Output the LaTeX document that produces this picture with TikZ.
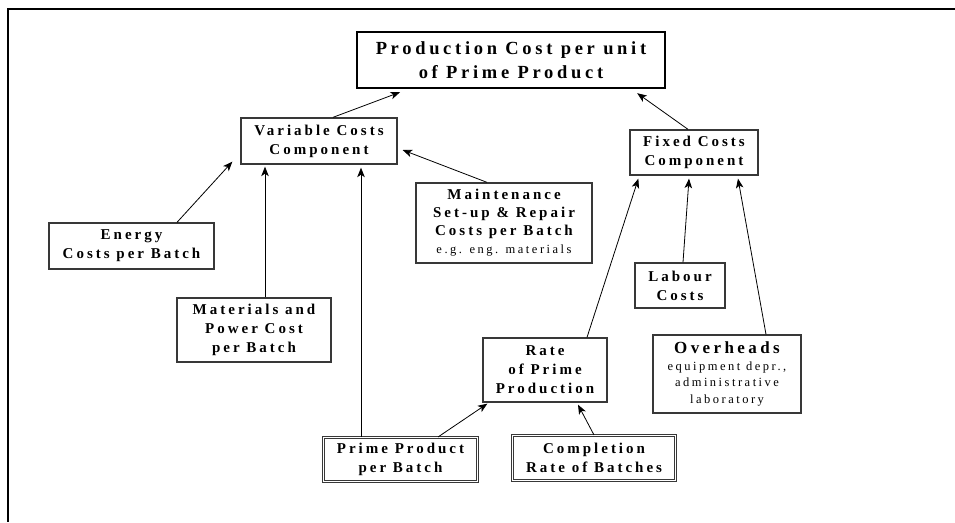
\documentclass[tikz,border=0pt]{standalone}
\usepackage{fontspec}
\setmainfont{Liberation Serif}
\newfontfamily\trackedfont[LetterSpace=20]{Liberation Serif}
\usetikzlibrary{arrows.meta}

\definecolor{boxgray}{gray}{0.22}

\tikzset{
  box/.style={draw=boxgray, line width=1.3pt, inner sep=0pt, align=center,
    font=\trackedfont\bfseries\fontsize{15}{19}\selectfont},
  titlebox/.style={box, draw=black, line width=2.4pt,
    font=\trackedfont\bfseries\fontsize{18.5}{24}\selectfont},
  dblbox/.style={box, double, double distance=1.6pt, line width=1pt},
  arr/.style={-{Stealth[length=9.5pt,width=7.5pt,inset=2.5pt]}, line width=0.8pt},
  frameline/.style={line width=2.6pt},
}
\newcommand{\smalltext}{\mdseries\fontsize{12.5}{16}\selectfont}

\begin{document}
\begin{tikzpicture}[x=1pt,y=-1pt]
  \useasboundingbox (0,0) rectangle (955,522);

  % open frame: top and left edges
  \coordinate (frameR) at (955,9);
  \coordinate (frameC) at (8,9);
  \coordinate (frameB) at (8,522);
  \draw[frameline] (frameR) -- (frameC) -- (frameB);

  % nodes
  \node[titlebox, minimum width=308pt, minimum height=56pt] (top) at (511,60)
    {Production Cost per unit\\of Prime Product};
  \node[box, minimum width=156pt, minimum height=46pt] (var) at (319,141)
    {Variable Costs\\Component};
  \node[box, minimum width=128pt, minimum height=45pt] (fixed) at (694,152.5)
    {Fixed Costs\\Component};
  \node[box, minimum width=165pt, minimum height=46pt] (energy) at (131.5,246)
    {Energy\\Costs per Batch};
  \node[box, minimum width=154pt, minimum height=64pt] (mat) at (254,330)
    {Materials and\\Power Cost\\per Batch};
  \node[box, minimum width=176pt, minimum height=80pt,
        font=\trackedfont\bfseries\fontsize{15}{18}\selectfont] (maint) at (504,223)
    {Maintenance\\Set-up \& Repair\\Costs per Batch\\{\smalltext e.g. eng. materials}};
  \node[box, minimum width=90pt, minimum height=45pt] (labour) at (680,285.5)
    {Labour\\Costs};
  \node[box, minimum width=148pt, minimum height=78pt,
        font=\trackedfont\fontsize{12.5}{16.5}\selectfont] (over) at (727,374)
    {{\bfseries\fontsize{17}{18}\selectfont Overheads}\\equipment depr.,\\administrative\\laboratory};
  \node[box, minimum width=124pt, minimum height=64pt] (rate) at (545,370)
    {Rate\\of Prime\\Production};
  \node[dblbox, minimum width=154pt, minimum height=44pt] (prime) at (400.5,459.5)
    {Prime Product\\per Batch};
  \node[dblbox, minimum width=163pt, minimum height=45pt] (comp) at (594,458)
    {Completion\\Rate of Batches};

  % connectors
  \draw[arr] ([xshift=14pt]var.north) -- ([xshift=-111pt,yshift=-3pt]top.south);
  \draw[arr] ([xshift=-6pt]fixed.north) -- ([xshift=-29pt,yshift=-4pt]top.south east);
  \draw[arr] ([xshift=45.5pt]energy.north) -- ([xshift=-8pt,yshift=3pt]var.south west);
  \draw[arr] ([xshift=11pt]mat.north) -- ([xshift=-54pt,yshift=-2pt]var.south);
  \draw[arr] ([xshift=-39.5pt]prime.north) -- ([xshift=42pt,yshift=-3pt]var.south);
  \draw[arr] ([xshift=-17pt]maint.north) -- ([xshift=5pt,yshift=-9pt]var.east);
  \draw[arr] ([xshift=42pt]rate.north) -- ([xshift=9pt,yshift=-3pt]fixed.south west);
  \draw[arr] ([xshift=3pt]labour.north) -- ([xshift=-5pt,yshift=-3pt]fixed.south);
  \draw[arr] ([xshift=39pt]over.north) -- ([xshift=44pt,yshift=-3pt]fixed.south);
  \draw[arr] ([xshift=37.5pt]prime.north) -- ([xshift=5pt,yshift=-1pt]rate.south west);
  \draw[arr] (comp.north) -- ([xshift=33pt,yshift=-2pt]rate.south);
\end{tikzpicture}
\end{document}
